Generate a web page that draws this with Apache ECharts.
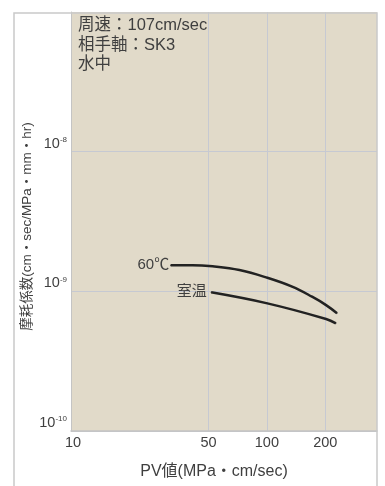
<!DOCTYPE html>
<html lang="ja">
<head>
<meta charset="utf-8" />
<title>摩耗係数</title>
<script src="https://cdn.jsdelivr.net/npm/echarts@6/dist/echarts.min.js"></script>
<style>
  html, body { margin: 0; padding: 0; background: #fff; }
  #main { width: 385px; height: 486px; }
</style>
</head>
<body>
<div id="main"></div>
<script>
// PV値 (MPa·cm/sec) と 摩耗係数
var hotX = [31.9, 41.4, 52.5, 72.2, 100.6, 135, 171, 202, 230];
var hotY = [1.54e-9, 1.54e-9, 1.51e-9, 1.42e-9, 1.25e-9, 1.08e-9, 9.15e-10, 7.97e-10, 6.97e-10];
var roomX = [51.6, 100.6, 202, 227];
var roomY = [9.84e-10, 8.2e-10, 6.34e-10, 5.9e-10];
var xLabels = [10, 50, 100, 200];
var xGrid = [50, 100, 200];
var yLabels = [1e-10, 1e-9, 1e-8];
var notes = ['周速：107cm/sec', '相手軸：SK3', '水中'];

var txt = '#3f3f3f';
var font = '"Liberation Sans", "Noto Sans CJK JP", sans-serif';

function pairs(xs, ys) {
  return xs.map(function (x, i) { return [x, ys[i]]; });
}

// 曲線の始点に名前を付ける
function labelled(xs, ys, text, dist) {
  return pairs(xs, ys).map(function (p, i) {
    if (i !== 0) return p;
    return {
      value: p,
      label: { show: true, position: 'left', distance: dist, formatter: text, color: txt, fontSize: 15 }
    };
  });
}

var myChart = echarts.init(document.getElementById('main'));
var option = {
  animation: false,
  textStyle: { fontFamily: font },
  grid: { left: 71, right: 8, top: 12, bottom: 55, show: true, backgroundColor: '#e1dac9', borderWidth: 0 },
  graphic: [
    {
      type: 'polyline',
      z: 100,
      shape: { points: [[14, 490], [14, 13], [377, 13], [377, 490]] },
      style: { stroke: '#c9c9c9', lineWidth: 1.5, fill: null }
    },
    {
      type: 'text',
      left: 78,
      top: 16,
      style: { text: notes.join('\n'), fill: txt, font: '16.5px ' + font, lineHeight: 19.5 }
    }
  ],
  xAxis: {
    type: 'log',
    logBase: 10,
    min: 9.77,
    max: 369.8,
    name: 'PV値(MPa・cm/sec)',
    nameLocation: 'middle',
    nameGap: 33,
    nameMoveOverlap: false,
    nameTextStyle: { color: txt, fontSize: 16, padding: [0, 20, 0, 0] },
    axisLine: { lineStyle: { color: '#c4c4c4', width: 1.5 } },
    axisTick: { show: false, customValues: xGrid },
    axisLabel: { customValues: xLabels, color: txt, fontSize: 14.5, margin: 5 },
    splitLine: { show: true, lineStyle: { color: '#c6c9d2', width: 1 } }
  },
  yAxis: {
    type: 'log',
    logBase: 10,
    min: 1e-10,
    max: 1e-7,
    name: '摩耗係数(cm・sec/MPa・mm・hr)',
    nameLocation: 'middle',
    nameGap: 37,
    nameMoveOverlap: false,
    nameTextStyle: { color: txt, fontSize: 13.5, padding: [0, 10, 0, 0] },
    axisLine: { show: true, lineStyle: { color: '#c4c4c4', width: 1 } },
    axisTick: { show: false, customValues: yLabels },
    axisLabel: {
      customValues: yLabels,
      color: txt,
      fontSize: 14.5,
      margin: 4,
      verticalAlign: 'bottom',
      formatter: function (v) {
        var e = Math.round(Math.log(v) / Math.LN10);
        return '10{s|' + e + '}';
      },
      rich: { s: { fontSize: 8, verticalAlign: 'top', padding: [0, 0, 8, 0], color: txt } }
    },
    splitLine: { show: true, lineStyle: { color: '#c6c9d2', width: 1 } }
  },
  series: [
    {
      name: '60℃',
      type: 'line',
      smooth: 0.4,
      symbol: 'circle',
      symbolSize: 1,
      showSymbol: true,
      itemStyle: { color: '#222' },
      lineStyle: { color: '#222', width: 2.5 },
      data: labelled(hotX, hotY, '60℃', 1),
      z: 3
    },
    {
      name: '室温',
      type: 'line',
      smooth: 0.4,
      symbol: 'circle',
      symbolSize: 1,
      showSymbol: true,
      itemStyle: { color: '#222' },
      lineStyle: { color: '#222', width: 2.5 },
      data: labelled(roomX, roomY, '室温', 4),
      z: 3
    }
  ]
};
myChart.setOption(option);
window.onresize = myChart.resize;
</script>
</body>
</html>
